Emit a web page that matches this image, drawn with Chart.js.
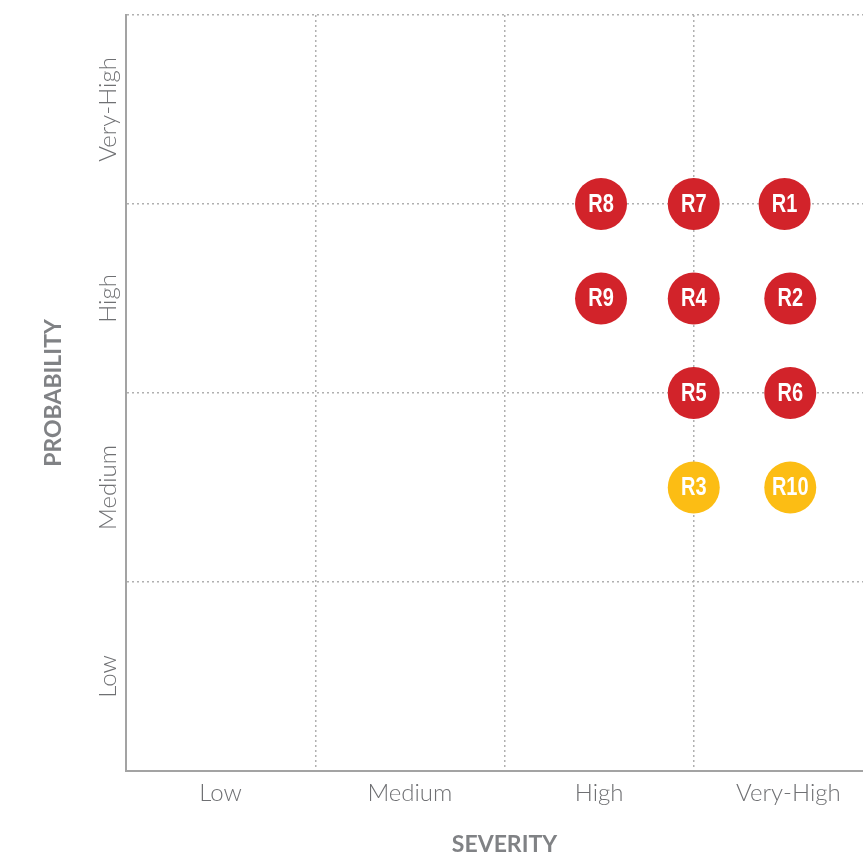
<!DOCTYPE html>
<html>
<head>
<meta charset="utf-8">
<title>Risk matrix</title>
<script src="https://cdn.jsdelivr.net/npm/chart.js@4.4.1/dist/chart.umd.min.js"></script>
<style>
  html, body { margin: 0; padding: 0; background: #fff; overflow: hidden; }
  #riskChart { display: block; }
</style>
</head>
<body>
<canvas id="riskChart" width="891" height="855"></canvas>
<script>
// category labels for each axis (one per band)
const severityLevels = ['Low', 'Medium', 'High', 'Very-High'];
const probabilityLevels = ['Low', 'Medium', 'High', 'Very-High'];

// risks: name, severity position, probability position, rating
const riskNames    = ['R1', 'R2', 'R3', 'R4', 'R5', 'R6', 'R7', 'R8', 'R9', 'R10'];
const riskSeverity = [3.48, 3.51, 3.0, 3.0, 3.0, 3.51, 3.0, 2.51, 2.51, 3.51];
const riskProb     = [3.0, 2.5, 1.5, 2.5, 2.0, 2.0, 3.0, 3.0, 2.5, 1.5];
const riskRating   = ['high', 'high', 'medium', 'high', 'high', 'high', 'high', 'high', 'high', 'medium'];

const ratingColors = { high: '#d2232a', medium: '#fcbd14' };

const gridGrey = '#b0b0b0';
const axisGrey = '#a3a3a3';
const labelGrey = '#6f7073';
const titleGrey = '#808285';
const labelFont = 'Lato, "Open Sans", sans-serif';

const bandTicks = [0, 0.5, 1, 1.5, 2, 2.5, 3, 3.5, 4];

function gridColor(ctx) {
  const v = ctx.tick ? ctx.tick.value : 0;
  if (v === 0 || v % 1 !== 0) return 'rgba(0,0,0,0)';
  return gridGrey;
}

// rotated probability labels + text inside each bubble
const matrixLabels = {
  id: 'matrixLabels',
  afterDatasetsDraw(chart) {
    const c = chart.ctx;
    const yScale = chart.scales.y;
    c.save();
    c.fillStyle = labelGrey;
    c.font = '300 24px ' + labelFont;
    c.textAlign = 'center';
    c.textBaseline = 'alphabetic';
    probabilityLevels.forEach((lbl, i) => {
      const py = yScale.getPixelForValue(i + 0.5);
      c.save();
      c.translate(116, py);
      c.rotate(-Math.PI / 2);
      c.fillText(lbl, 0, 0);
      c.restore();
    });

    // condensed bold look: squeeze a regular bold face horizontally
    const meta = chart.getDatasetMeta(0);
    c.fillStyle = '#ffffff';
    c.font = 'bold 25px "Liberation Sans", Arial, sans-serif';
    c.textBaseline = 'middle';
    meta.data.forEach((pt, i) => {
      c.save();
      c.translate(pt.x, pt.y + 1);
      c.scale(0.8, 1);
      c.fillText(riskNames[i], 0, 0);
      c.restore();
    });
    c.restore();
  }
};

const points = riskNames.map((n, i) => ({ x: riskSeverity[i], y: riskProb[i] }));

new Chart(document.getElementById('riskChart'), {
  type: 'scatter',
  data: {
    datasets: [{
      data: points,
      pointRadius: 26,
      pointHoverRadius: 26,
      pointBorderWidth: 0,
      pointBackgroundColor: riskRating.map(r => ratingColors[r])
    }]
  },
  options: {
    responsive: false,
    animation: false,
    layout: { autoPadding: false, padding: { top: 15, right: 2, left: 0, bottom: 0 } },
    plugins: {
      legend: { display: false },
      tooltip: { enabled: false }
    },
    scales: {
      x: {
        type: 'linear',
        min: 0,
        max: 4,
        afterBuildTicks: s => { s.ticks = bandTicks.map(v => ({ value: v })); },
        afterFit: s => { s.height = 84; },
        grid: {
          color: gridColor,
          lineWidth: 1.5,
          drawTicks: false
        },
        border: { display: true, color: axisGrey, width: 2, dash: [2, 3] },
        ticks: {
          autoSkip: false,
          maxRotation: 0,
          padding: 8,
          color: labelGrey,
          font: { family: labelFont, size: 24, weight: 300 },
          callback: v => (v % 1 === 0.5 ? severityLevels[Math.floor(v)] : '')
        },
        title: {
          display: true,
          text: 'SEVERITY',
          color: titleGrey,
          font: { family: labelFont, size: 23, weight: 'bold' },
          padding: { top: 0, bottom: -3 }
        }
      },
      y: {
        type: 'linear',
        min: 0,
        max: 4,
        afterBuildTicks: s => { s.ticks = bandTicks.map(v => ({ value: v })); },
        afterFit: s => { s.width = 126; },
        grid: {
          color: gridColor,
          lineWidth: 1.5,
          drawTicks: false
        },
        border: { display: true, color: axisGrey, width: 2, dash: [2, 3] },
        ticks: { display: false },
        title: {
          display: true,
          text: 'PROBABILITY',
          color: titleGrey,
          font: { family: labelFont, size: 23, weight: 'bold' },
          padding: { top: 40, bottom: 0 }
        }
      }
    }
  },
  plugins: [matrixLabels]
});
</script>
</body>
</html>
